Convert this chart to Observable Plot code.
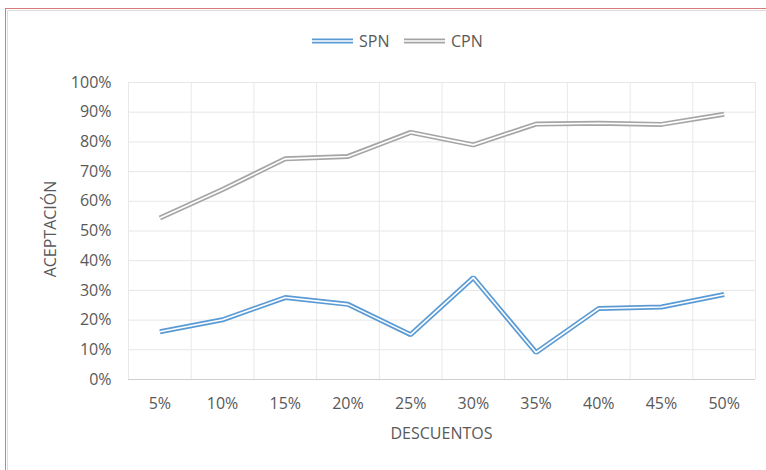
<!DOCTYPE html>
<html>
<head>
<meta charset="utf-8">
<script src="https://cdn.jsdelivr.net/npm/d3@7"></script>
<script src="https://cdn.jsdelivr.net/npm/@observablehq/plot@0.6"></script>
<style>
  html, body { margin: 0; padding: 0; background: #fff; }
  body { width: 766px; height: 470px; overflow: hidden; font-family: "Open Sans", sans-serif; color: #595959; }
  #wrap { position: relative; width: 766px; height: 470px; }
  #frameRed { position: absolute; left: 5px; top: 8px; width: 800px; height: 480px; border-top: 1px solid #d97a7a; border-left: 1px solid #d97a7a; }
  #frameGray { position: absolute; left: 7px; top: 10px; width: 800px; height: 480px; border-top: 1px solid #dcdcdc; border-left: 1px solid #dcdcdc; }
  #legend { position: absolute; left: 0; top: 0; width: 766px; height: 60px; }
  .lg { position: absolute; top: 31px; font-size: 16px; line-height: 20px; color: #595959; display: flex; align-items: center; }
  .lg svg { margin-right: 6px; }
  #chart { position: absolute; left: 0; top: 60px; }
  #xtitle { position: absolute; left: 128px; width: 627px; top: 423px; text-align: center; font-size: 16px; line-height: 20px; }
  #ytitle { position: absolute; left: 50px; top: 229px; font-size: 16px; line-height: 20px; transform: translate(-50%, -50%) rotate(-90deg); white-space: nowrap; }
</style>
</head>
<body>
<div id="wrap">
  <div id="frameRed"></div>
  <div id="frameGray"></div>
  <div id="legend"></div>
  <div id="chart"></div>
  <div id="xtitle">DESCUENTOS</div>
  <div id="ytitle">ACEPTACIÓN</div>
</div>
<script>
const categories = ["5%", "10%", "15%", "20%", "25%", "30%", "35%", "40%", "45%", "50%"];
const seriesNames = ["SPN", "CPN"];
const seriesColors = ["#5b9bd5", "#a5a5a5"];
const spn = [0.161, 0.201, 0.276, 0.253, 0.151, 0.343, 0.091, 0.239, 0.244, 0.286];
const cpn = [0.544, 0.640, 0.743, 0.751, 0.832, 0.790, 0.860, 0.863, 0.859, 0.893];
const yTicks = [0, 0.1, 0.2, 0.3, 0.4, 0.5, 0.6, 0.7, 0.8, 0.9, 1.0];

const rows = [];
categories.forEach((c, i) => {
  rows.push({i, cat: c, value: spn[i], series: "SPN"});
  rows.push({i, cat: c, value: cpn[i], series: "CPN"});
});
const xIdx = categories.map((c, i) => i);
const bounds = categories.map((c, i) => i - 0.5).concat([categories.length - 0.5]);

// Legend
const legend = document.getElementById("legend");
const legendX = [312, 404];
seriesNames.forEach((name, k) => {
  const d = document.createElement("div");
  d.className = "lg";
  d.style.left = legendX[k] + "px";
  d.innerHTML = `<svg width="41" height="10"><line x1="0" x2="41" y1="5" y2="5" stroke="${seriesColors[k]}" stroke-width="5"/><line x1="0" x2="41" y1="5" y2="5" stroke="#fff" stroke-width="1.6"/></svg><span>${name}</span>`;
  legend.appendChild(d);
});

const chart = Plot.plot({
  width: 766,
  height: 410,
  marginTop: 22,
  marginBottom: 91,
  marginLeft: 128,
  marginRight: 11,
  style: {fontFamily: "Open Sans, sans-serif", fontSize: "16px", color: "#595959", background: "transparent"},
  x: {type: "linear", domain: [-0.5, categories.length - 0.5], ticks: xIdx, tickFormat: i => categories[i], tickSize: 0, tickPadding: 18, label: null},
  y: {domain: [0, 1], ticks: yTicks, tickFormat: d => Math.round(d * 100) + "%", tickSize: 0, tickPadding: 17, label: null},
  color: {domain: seriesNames, range: seriesColors},
  marks: [
    Plot.ruleY(yTicks, {stroke: "#e6e6e6", strokeWidth: 1}),
    Plot.ruleX(bounds, {stroke: "#e8e8e8", strokeWidth: 1}),
    Plot.ruleY([0], {stroke: "#d0d0d0", strokeWidth: 1.2}),
    Plot.line(rows, {x: "i", y: "value", z: "series", stroke: "series", strokeWidth: 5, strokeLinejoin: "miter", strokeLinecap: "butt"}),
    Plot.line(rows, {x: "i", y: "value", z: "series", stroke: "#ffffff", strokeWidth: 1.6, strokeLinejoin: "miter", strokeLinecap: "butt"})
  ]
});
document.getElementById("chart").appendChild(chart);
</script>
</body>
</html>
